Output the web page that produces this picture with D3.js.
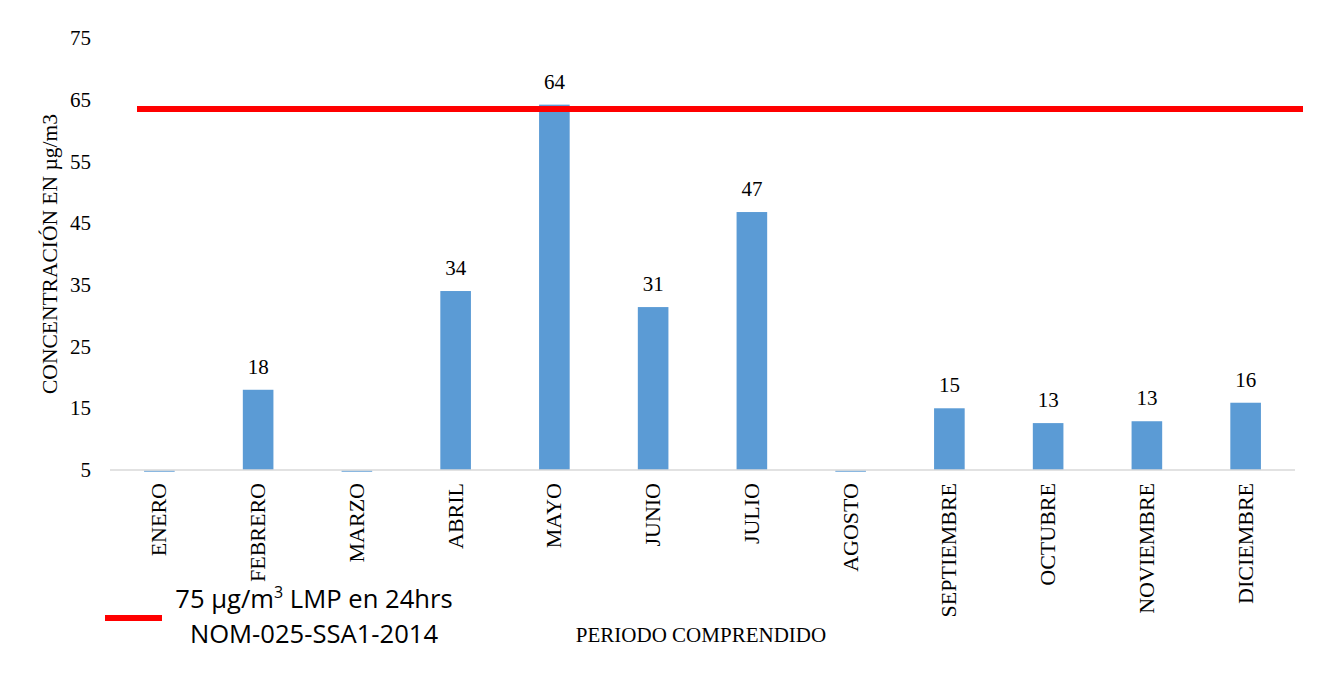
<!DOCTYPE html>
<html>
<head>
<meta charset="utf-8">
<script src="https://cdn.jsdelivr.net/npm/d3@7"></script>
<style>
  body { margin: 0; background: #fff; }
  text { fill: #000; }
</style>
</head>
<body>
<script>
// monthly concentration (ug/m3), null = no sample
var months = ["ENERO", "FEBRERO", "MARZO", "ABRIL", "MAYO", "JUNIO", "JULIO",
              "AGOSTO", "SEPTIEMBRE", "OCTUBRE", "NOVIEMBRE", "DICIEMBRE"];
var values = [null, 18, null, 34, 64.2, 31.4, 46.8, null, 15, 12.6, 12.9, 15.9];
var labels = ["", "18", "", "34", "64", "31", "47", "", "15", "13", "13", "16"];
var limitValue = 63.5;
var yTicks = [5, 15, 25, 35, 45, 55, 65, 75];

function drawChart() {
    var width = 1323, height = 677;
    var mLeft = 110, mRight = 1295, mTop = 38, mBottom = 470;

    var svg = d3.select("body").append("svg")
        .attr("width", width)
        .attr("height", height);

    var x = d3.scaleBand().domain(months).range([mLeft, mRight]);
    var y = d3.scaleLinear().domain([5, 75]).range([mBottom, mTop]);
    var barW = x.bandwidth() * 0.31;

    // y tick labels (no axis line in the original)
    svg.append("g").selectAll("text")
        .data(yTicks)
        .enter().append("text")
        .attr("x", 91)
        .attr("y", function(d) { return y(d); })
        .attr("dy", "0.34em")
        .attr("text-anchor", "end")
        .style("font", "21px 'Liberation Serif'")
        .text(function(d) { return d; });

    // bars
    svg.append("g").selectAll("rect")
        .data(months)
        .enter().append("rect")
        .attr("x", function(d) { return x(d) + x.bandwidth() / 2 - barW / 2; })
        .attr("y", function(d, i) { return values[i] == null ? y(5) + 0.5 : y(values[i]); })
        .attr("width", barW)
        .attr("height", function(d, i) { return values[i] == null ? 1.2 : y(5) - y(values[i]); })
        .attr("fill", "#5b9bd5");

    // category axis line
    svg.append("line")
        .attr("x1", mLeft).attr("x2", mRight)
        .attr("y1", y(5)).attr("y2", y(5))
        .attr("stroke", "#d9d9d9")
        .attr("stroke-width", 1.5);

    // data labels
    svg.append("g").selectAll("text")
        .data(months)
        .enter().append("text")
        .attr("x", function(d) { return x(d) + x.bandwidth() / 2; })
        .attr("y", function(d, i) { return values[i] == null ? 0 : y(values[i]) - 16; })
        .attr("text-anchor", "middle")
        .style("font", "21px 'Liberation Serif'")
        .text(function(d, i) { return labels[i]; });

    // month labels, rotated
    svg.append("g").selectAll("text")
        .data(months)
        .enter().append("text")
        .attr("transform", function(d) {
            return "translate(" + (x(d) + x.bandwidth() / 2 + 7) + "," + (mBottom + 13) + ") rotate(-90)";
        })
        .attr("text-anchor", "end")
        .style("font", "22px 'Liberation Serif'")
        .text(function(d) { return d; });

    // limit line
    svg.append("line")
        .attr("x1", mLeft + 27).attr("x2", mRight + 8)
        .attr("y1", y(limitValue)).attr("y2", y(limitValue))
        .attr("stroke", "#ff0000")
        .attr("stroke-width", 6);

    // axis titles
    svg.append("text")
        .attr("transform", "translate(57,254) rotate(-90)")
        .attr("text-anchor", "middle")
        .style("font", "21.5px 'Liberation Serif'")
        .text("CONCENTRACIÓN EN µg/m3");

    svg.append("text")
        .attr("x", 701)
        .attr("y", 642)
        .attr("text-anchor", "middle")
        .style("font", "21px 'Liberation Serif'")
        .text("PERIODO COMPRENDIDO");

    // legend
    svg.append("line")
        .attr("x1", 105).attr("x2", 162)
        .attr("y1", 618).attr("y2", 618)
        .attr("stroke", "#ff0000")
        .attr("stroke-width", 6);

    var leg = svg.append("text")
        .attr("text-anchor", "middle")
        .style("font", "25.6px 'Open Sans'");
    var l1 = leg.append("tspan").attr("x", 314).attr("y", 608);
    l1.append("tspan").text("75 µg/m");
    l1.append("tspan").attr("dy", -10).style("font-size", "16px").text("3");
    l1.append("tspan").attr("dy", 10).text(" LMP en 24hrs");
    leg.append("tspan").attr("x", 314).attr("y", 643).text("NOM-025-SSA1-2014");
}

drawChart();
</script>
</body>
</html>
